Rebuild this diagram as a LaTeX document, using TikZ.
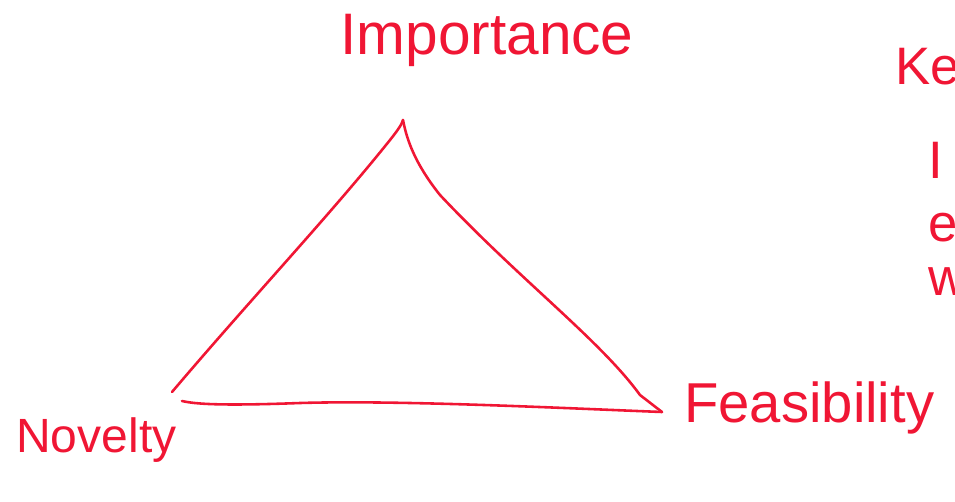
\documentclass[tikz,border=0pt]{standalone}
\usepackage{fontspec}
\setmainfont{Liberation Sans}
\usetikzlibrary{positioning,calc}
\definecolor{inkred}{RGB}{240,22,52}

\begin{document}
\begin{tikzpicture}[x=0.03cm,y=-0.03cm,
  ink/.style={draw=inkred,line width=2.2pt,line cap=round,line join=round},
  word/.style={text=inkred,inner sep=0pt}]
\useasboundingbox (0,0) rectangle (955,501);
\coordinate (Tapex) at (403,120);
\coordinate (Tleft) at (172,392);
\coordinate (Tright) at (662,412);
\coordinate (Bstart) at (182,401);
\node [word,font=\fontsize{50}{56}\selectfont] (Imp) at (487,40) {Importance};
\node [word,font=\fontsize{41}{48}\selectfont,anchor=west] (Nov) at (16,440) {Novelty};
\node [word,font=\fontsize{48}{54}\selectfont,anchor=west] (Fea) at (684,408) {Feasibility};
\node [word,font=\fontsize{45}{52}\selectfont,anchor=west] (Key) at (895,72) {Key};
\node [word,font=\fontsize{45}{52}\selectfont,anchor=west] (KeyI) at (928,160) {I};
\node [word,font=\fontsize{45}{52}\selectfont,anchor=west] (KeyE) at (928,228) {e};
\node [word,font=\fontsize{45}{52}\selectfont,anchor=west] (KeyW) at (928,282) {w};
\draw [ink] (Tleft) .. controls (250,300) and (330,215) .. (390,140) .. controls (398,130) and (402,124) .. (Tapex);
\draw [ink] (Tapex) .. controls (406,135) and (412,160) .. (440,195) .. controls (520,280) and (600,340) .. (640,395) -- (Tright);
\draw [ink] (Tright) .. controls (560,408) and (400,400) .. (300,403) .. controls (220,406) and (195,404) .. (Bstart);
\end{tikzpicture}
\end{document}
